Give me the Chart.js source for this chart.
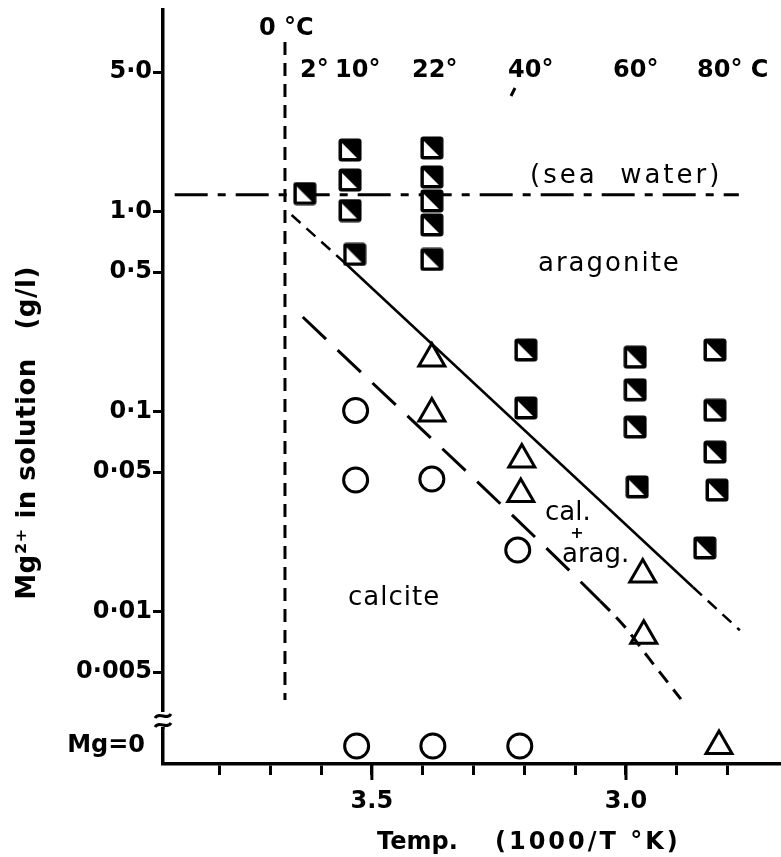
<!DOCTYPE html>
<html>
<head>
<meta charset="utf-8">
<title>Mg2+ in solution vs temperature</title>
<script src="https://cdn.jsdelivr.net/npm/chart.js@4.4.1/dist/chart.umd.min.js"></script>
<style>
  html, body { margin: 0; padding: 0; background: #fff; overflow: hidden; }
  #wrap { width: 781px; height: 857px; position: relative; }
</style>
</head>
<body>
<div id="wrap"><canvas id="mgChart"></canvas></div>
<script>
// x = 1000/T (K), y = Mg2+ in solution (g/l)

// aragonite only (half filled squares)
const aragX = [3.632, 3.543, 3.543, 3.543, 3.534,
               3.382, 3.382, 3.382, 3.382, 3.382,
               3.197, 3.197,
               2.982, 2.982, 2.982, 2.978,
               2.825, 2.825, 2.825, 2.821, 2.845];
const aragY = [1.237, 2.04, 1.445, 1.017, 0.613,
               2.089, 1.496, 1.135, 0.861, 0.579,
               0.204, 0.1047,
               0.188, 0.129, 0.0841, 0.0422,
               0.204, 0.102, 0.063, 0.0407, 0.0209];

// calcite + aragonite (open triangles)
const mixX = [3.382, 3.382, 3.205, 3.207, 2.967, 2.965];
const mixY = [0.185, 0.0983, 0.0579, 0.0389, 0.0154, 0.0076];

// calcite only (open circles)
const calX = [3.532, 3.532, 3.382, 3.213];
const calY = [0.1017, 0.0457, 0.0462, 0.0204];

// runs without Mg
const calZeroX = [3.530, 3.380, 3.209];
const mixZeroX = [2.817];

// boundaries
const aragLineX = [3.658, 3.553, 2.868, 2.776];
const aragLineY = [0.966, 0.556, 0.0133, 0.0081];
const calLineX = [3.636, 3.051, 3.002, 2.957, 2.892];
const calLineY = [0.2985, 0.01135, 0.00841, 0.00596, 0.00367];
const seaWaterX = [3.888, 2.778];
const seaWaterY = [1.22, 1.22];
const zeroCX = [3.671, 3.671];
const zeroCY = [7.08, 0.00363];

// axes
const xTicks = [3.8, 3.7, 3.6, 3.5, 3.4, 3.3, 3.2, 3.1, 3.0, 2.9, 2.8];
const xTickLabels = ['', '', '', '3.5', '', '', '', '', '3.0', '', ''];
const yTicks = [5, 1, 0.5, 0.1, 0.05, 0.01, 0.005];
const yTickLabels = ['5·0', '1·0', '0·5', '0·1', '0·05', '0·01', '0·005'];

const BOLD = 'bold 24px "DejaVu Sans"';
const PLAIN = '26px "DejaVu Sans"';

function pts(xs, ys) {
    return xs.map((x, i) => ({ x: x, y: ys[i] }));
}

// square with white lower-left half
function makeSquare() {
    const c = document.createElement('canvas');
    c.width = 24;
    c.height = 24;
    const g = c.getContext('2d');
    g.fillStyle = '#000';
    g.beginPath();
    g.roundRect(0.5, 0.5, 23, 23, 3);
    g.fill();
    g.fillStyle = '#fff';
    g.beginPath();
    g.moveTo(4, 5);
    g.lineTo(4, 20);
    g.lineTo(19, 20);
    g.closePath();
    g.fill();
    return c;
}

// fixed axis sizes
function fitX(s) {
    s.height = 93;
    s.paddingLeft = 0;
    s.paddingRight = 0;
}
function fitY(s) {
    s.width = 163;
    s.paddingTop = 0;
    s.paddingBottom = 0;
}

// texts, break mark, long ticks
const notes = {
    id: 'notes',
    afterDraw(chart) {
        const ctx = chart.ctx;
        const area = chart.chartArea;
        const xs = chart.scales.x;
        ctx.save();
        ctx.strokeStyle = '#000';
        ctx.fillStyle = '#000';

        // longer ticks for labelled values
        ctx.lineWidth = 3;
        xTicks.forEach((v, i) => {
            if (!xTickLabels[i]) return;
            const px = xs.getPixelForValue(v);
            ctx.beginPath();
            ctx.moveTo(px, area.bottom);
            ctx.lineTo(px, area.bottom + 16);
            ctx.stroke();
        });

        // axis break
        const bx = area.left;
        ctx.fillStyle = '#fff';
        ctx.fillRect(bx - 4, 712, 8, 15);
        ctx.lineWidth = 3;
        [716, 725].forEach(by => {
            ctx.beginPath();
            ctx.moveTo(bx - 8, by + 2);
            ctx.bezierCurveTo(bx - 4, by - 5, bx + 4, by + 5, bx + 8, by - 2);
            ctx.stroke();
        });

        ctx.fillStyle = '#000';
        ctx.textBaseline = 'alphabetic';
        ctx.textAlign = 'left';

        ctx.font = BOLD;
        ctx.fillText('0 °C', 259, 35);
        ctx.fillText('2°', 300, 77);
        ctx.fillText('10°', 335, 77);
        ctx.fillText('22°', 412, 77);
        ctx.fillText('40°', 508, 77);
        ctx.fillText('60°', 613, 77);
        ctx.fillText('80° C', 697, 77);
        ctx.beginPath();
        ctx.moveTo(515, 88);
        ctx.lineTo(511, 96);
        ctx.stroke();

        ctx.font = PLAIN;
        ctx.letterSpacing = '3px';
        ctx.fillText('(sea  water)', 530, 183);
        ctx.letterSpacing = '2px';
        ctx.fillText('aragonite', 538, 271);
        ctx.letterSpacing = '1px';
        ctx.fillText('calcite', 348, 605);
        ctx.letterSpacing = '0px';
        ctx.fillText('cal.', 545, 520);
        ctx.fillText('arag.', 562, 562);
        ctx.font = 'bold 16px "DejaVu Sans"';
        ctx.textAlign = 'center';
        ctx.fillText('+', 577, 538);

        ctx.font = BOLD;
        ctx.textAlign = 'left';
        ctx.fillText('Temp.', 377, 849);
        ctx.letterSpacing = '3px';
        ctx.fillText('(1000/T °K)', 495, 849);

        ctx.font = 'bold 26px "DejaVu Sans"';
        ctx.letterSpacing = '0.5px';
        ctx.translate(35, 433);
        ctx.rotate(-Math.PI / 2);
        ctx.textAlign = 'center';
        ctx.fillText('Mg²⁺ in solution   (g/l)', 0, 0);
        ctx.restore();
    }
};

const square = makeSquare();

new Chart(document.getElementById('mgChart'), {
    type: 'scatter',
    data: {
        datasets: [
            {
                label: 'aragonite',
                data: pts(aragX, aragY),
                pointStyle: square,
                pointRadius: 12
            },
            {
                label: 'calcite + aragonite',
                data: pts(mixX, mixY),
                pointStyle: 'triangle',
                pointRadius: 15,
                borderWidth: 3,
                borderColor: '#000',
                backgroundColor: 'rgba(0,0,0,0)'
            },
            {
                label: 'calcite',
                data: pts(calX, calY),
                pointStyle: 'circle',
                pointRadius: 12,
                borderWidth: 3,
                borderColor: '#000',
                backgroundColor: 'rgba(0,0,0,0)'
            },
            {
                label: 'calcite, Mg = 0',
                data: calZeroX.map(x => ({ x: x, y: 0 })),
                yAxisID: 'y0',
                pointStyle: 'circle',
                pointRadius: 12,
                borderWidth: 3,
                borderColor: '#000',
                backgroundColor: 'rgba(0,0,0,0)'
            },
            {
                label: 'calcite + aragonite, Mg = 0',
                data: mixZeroX.map(x => ({ x: x, y: 0 })),
                yAxisID: 'y0',
                pointStyle: 'triangle',
                pointRadius: 15,
                borderWidth: 3,
                borderColor: '#000',
                backgroundColor: 'rgba(0,0,0,0)'
            },
            {
                label: 'aragonite boundary',
                data: pts(aragLineX, aragLineY),
                showLine: true,
                pointRadius: 0,
                borderWidth: 2.5,
                borderColor: '#000',
                segment: {
                    borderDash: c => c.p0DataIndex === 1 ? [] : [12, 8]
                }
            },
            {
                label: 'calcite boundary',
                data: pts(calLineX, calLineY),
                showLine: true,
                pointRadius: 0,
                borderWidth: 3,
                borderColor: '#000',
                cubicInterpolationMode: 'monotone',
                segment: {
                    borderDash: c => c.p0DataIndex === 0 ? [32, 16] : [14, 9]
                }
            },
            {
                label: 'sea water',
                data: pts(seaWaterX, seaWaterY),
                showLine: true,
                pointRadius: 0,
                borderWidth: 3,
                borderColor: '#000',
                borderDash: [33, 10, 8, 10]
            },
            {
                label: '0 °C',
                data: pts(zeroCX, zeroCY),
                showLine: true,
                pointRadius: 0,
                borderWidth: 3,
                borderColor: '#000',
                borderDash: [13, 8]
            }
        ]
    },
    options: {
        responsive: true,
        maintainAspectRatio: false,
        animation: false,
        events: [],
        layout: {
            autoPadding: false,
            padding: { top: 10, right: 0, bottom: 0, left: 0 }
        },
        plugins: {
            legend: { display: false },
            tooltip: { enabled: false }
        },
        scales: {
            x: {
                type: 'linear',
                reverse: true,
                min: 2.695,
                max: 3.911,
                bounds: 'data',
                afterFit: fitX,
                afterBuildTicks: s => { s.ticks = xTicks.map(v => ({ value: v })); },
                border: { color: '#000', width: 3.5 },
                grid: { drawOnChartArea: false, tickLength: 11, tickWidth: 3, tickColor: '#000' },
                ticks: {
                    autoSkip: false,
                    maxRotation: 0,
                    padding: 12,
                    color: '#000',
                    font: { family: 'DejaVu Sans', size: 24, weight: 'bold' },
                    callback: (v, i) => xTickLabels[i]
                }
            },
            y: {
                type: 'logarithmic',
                position: 'left',
                stack: 'mg',
                stackWeight: 718,
                weight: 1,
                min: 0.00263,
                max: 10.23,
                bounds: 'data',
                afterFit: fitY,
                afterBuildTicks: s => { s.ticks = yTicks.map(v => ({ value: v })); },
                border: { color: '#000', width: 3.5 },
                grid: { drawOnChartArea: false, tickLength: 10, tickWidth: 3, tickColor: '#000' },
                ticks: {
                    autoSkip: false,
                    padding: 1,
                    color: '#000',
                    font: { family: 'DejaVu Sans', size: 24, weight: 'bold' },
                    callback: (v, i) => yTickLabels[i]
                }
            },
            y0: {
                type: 'linear',
                position: 'left',
                stack: 'mg',
                stackWeight: 36,
                weight: 0,
                min: -1,
                max: 1,
                afterFit: fitY,
                afterBuildTicks: s => { s.ticks = [{ value: 0 }]; },
                border: { color: '#000', width: 3.5 },
                grid: { drawOnChartArea: false, tickLength: 10, tickColor: 'rgba(0,0,0,0)' },
                ticks: {
                    padding: 8,
                    color: '#000',
                    font: { family: 'DejaVu Sans', size: 24, weight: 'bold' },
                    callback: () => 'Mg=0'
                }
            }
        }
    },
    plugins: [notes]
});
</script>
</body>
</html>
